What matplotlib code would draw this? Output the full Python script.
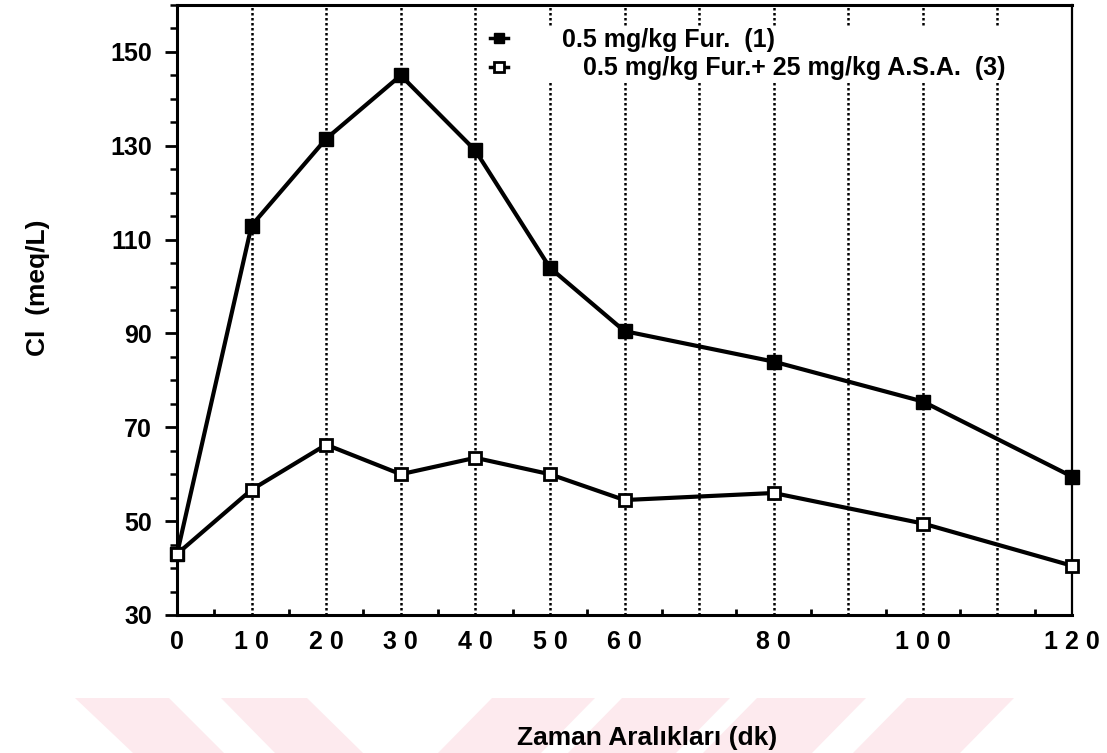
import numpy as np
import matplotlib
matplotlib.use("Agg")
import matplotlib.pyplot as plt
from matplotlib.patches import Polygon
from matplotlib.ticker import MultipleLocator, FixedLocator

# data
minutes = [0, 10, 20, 30, 40, 50, 60, 80, 100, 120]
fur = [43, 113, 131.5, 145, 129, 104, 90.5, 84, 75.5, 59.5]
fur_asa = [43, 56.7, 66.3, 60, 63.5, 60, 54.5, 56, 49.5, 40.5]

tick_pos = [0, 10, 20, 30, 40, 50, 60, 80, 100, 120]
tick_lab = ["0", "1 0", "2 0", "3 0", "4 0", "5 0", "6 0", "8 0", "1 0 0", "1 2 0"]
grid_pos = [10, 20, 30, 40, 50, 60, 70, 80, 90, 100, 110]

lab_fur = "0.5 mg/kg Fur.  (1)"
lab_asa = "   0.5 mg/kg Fur.+ 25 mg/kg A.S.A.  (3)"

plt.rcParams['font.family'] = ['Liberation Sans', 'DejaVu Sans']
plt.rcParams['font.weight'] = 'bold'

W, H = 1107, 753
fig = plt.figure(figsize=(W / 100, H / 100), dpi=100)

# faint pink watermark stripes at the bottom (pixel coords, y from top)
stripes = [
    [(75, 698), (169, 698), (224, 753), (133, 753)],
    [(221, 698), (307, 698), (363, 753), (275, 753)],
    [(492, 698), (595, 698), (541, 753), (438, 753)],
    [(622, 698), (730, 698), (676, 753), (568, 753)],
    [(757, 698), (866, 698), (812, 753), (703, 753)],
    [(907, 698), (1014, 698), (960, 753), (853, 753)],
]
for s in stripes:
    pts = [(x / W, 1 - y / H) for x, y in s]
    fig.patches.append(Polygon(pts, closed=True, transform=fig.transFigure,
                               facecolor='#fdeaee', edgecolor='none', zorder=0))

ax = fig.add_axes([177 / W, 1 - 615 / H, (1072 - 177) / W, (615 - 5) / H])
ax.set_facecolor('none')

for g in grid_pos:
    ax.axvline(g, color='black', lw=1.8, ls=(0, (1, 1)), zorder=1)

ax.plot(minutes, fur, color='black', lw=3, marker='s', markersize=9.5,
        markerfacecolor='black', markeredgecolor='black', clip_on=False,
        zorder=3, label=lab_fur)
ax.plot(minutes, fur_asa, color='black', lw=3, marker='s', markersize=8.5,
        markerfacecolor='white', markeredgecolor='black', markeredgewidth=2,
        clip_on=False, zorder=3, label=lab_asa)

ax.set_xlim(0, 120)
ax.set_ylim(30, 160)

ax.xaxis.set_major_locator(FixedLocator(tick_pos))
ax.set_xticklabels(tick_lab)
ax.xaxis.set_minor_locator(FixedLocator([5 + 10 * i for i in range(12)]))
ax.set_yticks([30, 50, 70, 90, 110, 130, 150])
ax.yaxis.set_minor_locator(MultipleLocator(5))

ax.tick_params(axis='x', which='major', length=0, pad=11, labelsize=18)
ax.tick_params(axis='x', which='minor', direction='in', length=4, width=2)
ax.tick_params(axis='y', which='major', direction='out', length=9, width=2,
               pad=9, labelsize=18)
ax.tick_params(axis='y', which='minor', direction='out', length=5, width=1.8)

for side in ['left', 'bottom', 'top']:
    ax.spines[side].set_linewidth(2.2)
ax.spines['right'].set_linewidth(1.6)

leg = ax.legend(loc='upper left', bbox_to_anchor=(490 / W, 1 - 28 / H),
                bbox_transform=fig.transFigure, frameon=True, fontsize=18,
                handlelength=0.7, handletextpad=2.2, labelspacing=0.18,
                borderpad=0, borderaxespad=0, markerscale=0.8)
leg.get_frame().set_facecolor('white')
leg.get_frame().set_edgecolor('none')
leg.get_frame().set_alpha(1)
leg.set_zorder(4)
for line in leg.get_lines():
    line.set_linewidth(2.5)

fig.text(38 / W, 1 - 288 / H, "Cl  (meq/L)", rotation=90, fontsize=19,
         fontweight='bold', ha='center', va='center')
fig.text(647 / W, 1 - 738 / H, "Zaman Aralıkları (dk)", fontsize=19,
         fontweight='bold', ha='center', va='center')

plt.savefig('out.png', dpi=100)
plt.close('all')
